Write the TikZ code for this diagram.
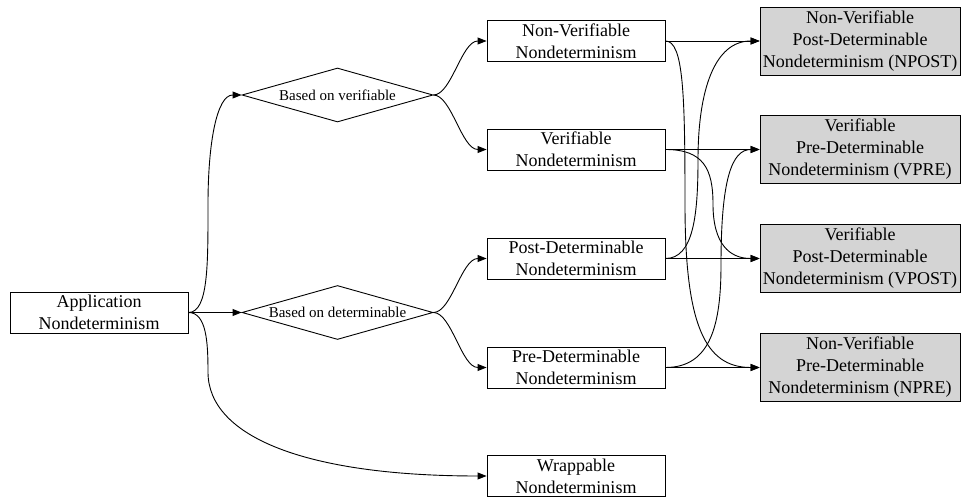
\documentclass[tikz,border=0pt]{standalone}
\usepackage{fontspec}
\setmainfont{Liberation Serif}
\usetikzlibrary{shapes.geometric,arrows.meta}
\definecolor{resultgray}{HTML}{D4D4D4}
\begin{document}
\begin{tikzpicture}[x=1pt,y=-1pt,
  every node/.style={font=\fontsize{18}{22}\selectfont, align=center, inner sep=0pt},
  box/.style={draw, line width=0.9pt, minimum width=178pt, minimum height=41pt},
  result/.style={draw, fill=resultgray, line width=0.9pt, minimum width=200pt, minimum height=68pt},
  choice/.style={draw, diamond, aspect=3.537, minimum width=191pt, minimum height=54pt,
    line width=0.9pt, font=\fontsize{15}{18}\selectfont},
  link/.style={draw, line width=0.9pt, -{Triangle[length=9pt,width=7pt]}},
]
\useasboundingbox (0,0) rectangle (962,497);

% root and the two criteria
\node[box] (app) at (99,312.5) {Application\\Nondeterminism};
\node[choice] (d1) at (337.5,95) {Based on verifiable};
\node[choice] (d2) at (337.5,312.5) {Based on determinable};

% basic kinds
\node[box] (nv)   at (576,41)    {Non-Verifiable\\Nondeterminism};
\node[box] (v)    at (576,149.5) {Verifiable\\Nondeterminism};
\node[box] (post) at (576,258.5) {Post-Determinable\\Nondeterminism};
\node[box] (pre)  at (576,367.5) {Pre-Determinable\\Nondeterminism};
\node[box] (wrap) at (576,476)   {Wrappable\\Nondeterminism};

% combined kinds
\node[result] (npost) at (860,41)    {Non-Verifiable\\Post-Determinable\\Nondeterminism (NPOST)};
\node[result] (vpre)  at (860,149.5) {Verifiable\\Pre-Determinable\\Nondeterminism (VPRE)};
\node[result] (vpost) at (860,258.5) {Verifiable\\Post-Determinable\\Nondeterminism (VPOST)};
\node[result] (npre)  at (860,367.5) {Non-Verifiable\\Pre-Determinable\\Nondeterminism (NPRE)};

% bend points of the long curves
\coordinate (appUp)    at (208,204);
\coordinate (appDown)  at (208,372);
\coordinate (nvDrop)   at (685,204);
\coordinate (vDrop)    at (713,204);
\coordinate (postRise) at (698,160);
\coordinate (preRise)  at (721,265);

% root to criteria and wrappable
\draw[link] (app.east) -- (d2.west);
\draw[link] (app.east) .. controls +(20,0) and +(0,60) .. (appUp)
  .. controls +(0,-60) and +(-25,0) .. (d1.west);
\draw[link] (app.east) .. controls +(18,0) and +(0,-30) .. (appDown)
  .. controls +(0,65) and +(-180,0) .. (wrap.west);

% criteria to basic kinds
\draw[link] (d1.east) .. controls +(18,0) and +(-25,0) .. (nv.west);
\draw[link] (d1.east) .. controls +(18,0) and +(-25,0) .. (v.west);
\draw[link] (d2.east) .. controls +(18,0) and +(-25,0) .. (post.west);
\draw[link] (d2.east) .. controls +(18,0) and +(-25,0) .. (pre.west);

% basic kinds to combined kinds
\draw[link] (nv.east) -- (npost.west);
\draw[link] (v.east) -- (vpre.west);
\draw[link] (post.east) -- (vpost.west);
\draw[link] (pre.east) -- (npre.west);
\draw[link] (nv.east) .. controls +(18,0) and +(0,-110) .. (nvDrop)
  .. controls +(0,120) and +(-55,0) .. (npre.west);
\draw[link] (v.east) .. controls +(38,0) and +(0,-35) .. (vDrop)
  .. controls +(0,40) and +(-30,0) .. (vpost.west);
\draw[link] (post.east) .. controls +(28,0) and +(0,55) .. (postRise)
  .. controls +(0,-70) and +(-45,0) .. (npost.west);
\draw[link] (pre.east) .. controls +(45,0) and +(0,60) .. (preRise)
  .. controls +(0,-85) and +(-28,0) .. (vpre.west);
\end{tikzpicture}
\end{document}
